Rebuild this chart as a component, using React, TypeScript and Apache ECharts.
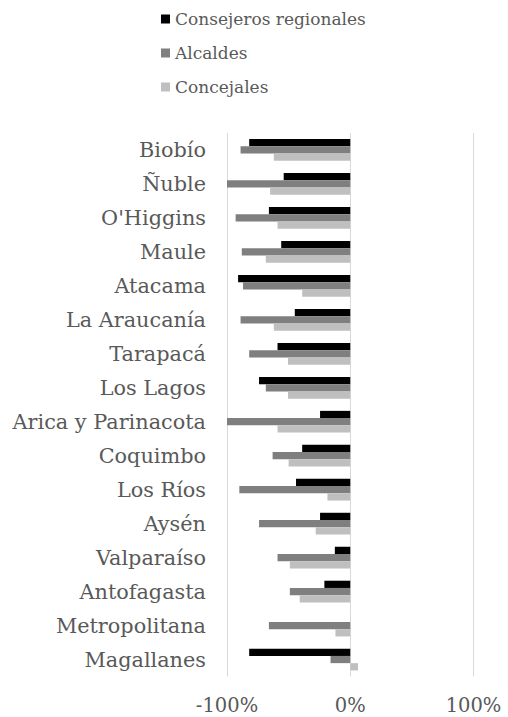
import React, { useEffect, useRef } from "react";
import * as echarts from "echarts";

const categories = [
  "Biobío",
  "Ñuble",
  "O'Higgins",
  "Maule",
  "Atacama",
  "La Araucanía",
  "Tarapacá",
  "Los Lagos",
  "Arica y Parinacota",
  "Coquimbo",
  "Los Ríos",
  "Aysén",
  "Valparaíso",
  "Antofagasta",
  "Metropolitana",
  "Magallanes",
];

const seriesNames = ["Consejeros regionales", "Alcaldes", "Concejales"];

const consejeros = [-82, -54, -66, -56, -91, -45, -59, -74, -24.5, -39, -44, -24.5, -12.5, -21, 0, -82];
const alcaldes = [-89, -100, -93, -88, -87, -89, -82, -68.5, -100, -63, -90, -74, -59, -49, -66, -16];
const concejales = [-62, -65, -59, -68.5, -39, -62, -50.5, -50.5, -59, -50, -18.5, -28, -49, -41, -12, 6.3];

const xTicks = { min: -100, max: 100, interval: 100 };

const colors = ["#000000", "#7f7f7f", "#bfbfbf"];
const FONT = "DejaVu Serif";
const TEXT = "#595959";

export default function App() {
  const ref = useRef<HTMLDivElement>(null);
  useEffect(() => {
    document.body.style.margin = "0";
    const chart = echarts.init(ref.current!, null, { renderer: "svg" });
    const data = [consejeros, alcaldes, concejales];
    chart.setOption({
      animation: false,
      legend: {
        orient: "vertical",
        left: 156,
        top: 4,
        itemWidth: 9,
        itemHeight: 9,
        itemGap: 14,
        icon: "rect",
        data: seriesNames,
        textStyle: { fontFamily: FONT, fontSize: 17, color: TEXT, lineHeight: 20 },
      },
      grid: { left: 227, width: 246.5, top: 133, bottom: 40.5, containLabel: false },
      xAxis: {
        type: "value",
        min: xTicks.min,
        max: xTicks.max,
        interval: xTicks.interval,
        axisLine: { show: false },
        axisTick: { show: false },
        splitLine: { show: true, lineStyle: { color: "#d9d9d9", width: 1 } },
        axisLabel: {
          formatter: "{value}%",
          fontFamily: FONT,
          fontSize: 19.5,
          color: TEXT,
          margin: 19,
        },
      },
      yAxis: {
        type: "category",
        inverse: true,
        data: categories,
        axisLine: { show: false },
        axisTick: { show: false },
        axisLabel: { fontFamily: FONT, fontSize: 20.8, color: TEXT, margin: 21 },
      },
      series: seriesNames.map((name, i) => ({
        name,
        type: "bar",
        data: data[i],
        itemStyle: { color: colors[i] },
        barGap: "0%",
        barCategoryGap: "36%",
      })),
    });
    return () => chart.dispose();
  }, []);
  return <div ref={ref} style={{ width: 508, height: 717 }} />;
}
